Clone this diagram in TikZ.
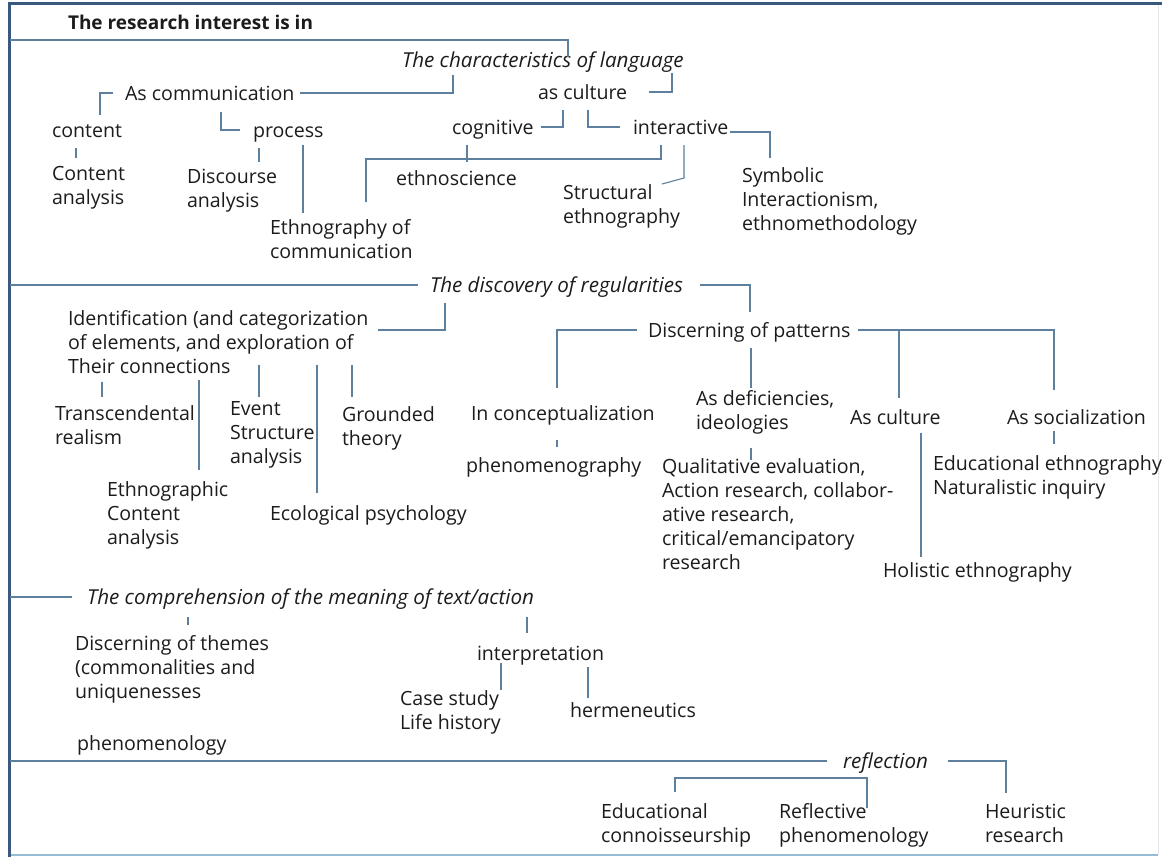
\documentclass[tikz,border=0pt]{standalone}
\usepackage{fontspec}
\setmainfont{Open Sans}
\definecolor{linkblue}{RGB}{92,128,158}
\definecolor{framedark}{RGB}{58,88,125}
\definecolor{framelight}{RGB}{150,188,212}
\definecolor{inkgray}{RGB}{28,28,28}
% multi-line label whose baseline is the first line
\newcommand{\ml}[1]{\begin{tabular}[t]{@{}l@{}}#1\end{tabular}}
\begin{document}
\begin{tikzpicture}[x=1pt,y=-1pt,
  conn/.style={draw=linkblue, line width=1.1pt},
  lbl/.style={anchor=base west, inner sep=0pt, outer sep=0pt, yshift=-7pt,
              text=inkgray, font=\fontsize{19.6}{24}\selectfont},
  one/.style={lbl, text height=18pt, text depth=4pt},
  it/.style={font=\fontsize{20.6}{24}\selectfont\itshape},
  titlefont/.style={font=\fontsize{19}{24}\selectfont\bfseries}]

\useasboundingbox (0,0) rectangle (1162,857);
\fill[white] (0,0) rectangle (1162,857);

% frame
\draw[framelight, line width=1.5pt] (10,855) -- (1158,855);
\draw[black!10, line width=1pt] (1158,3) -- (1158,855);
\draw[framedark, line width=3pt] (8,3.5) -- (1162,3.5);
\draw[framedark, line width=3pt] (9.5,2) -- (9.5,857);

% ---------- the characteristics of language ----------
\node[one,titlefont] (title) at (68,22) {The research interest is in};
\node[one,it] (charlang) at (402,60) {The characteristics of language};
\node[one] (ascomm) at (125,93) {As communication};
\node[one] (asculture1) at (538,92) {as culture};
\node[one] (content) at (52,130) {content};
\node[one] (process) at (253,130) {process};
\node[one] (cognitive) at (452,127) {cognitive};
\node[one] (interactive) at (633,127) {interactive};
\node[lbl] (contentan) at (52,173) {\ml{Content\\analysis}};
\node[lbl] (discourse) at (187,176) {\ml{Discourse\\analysis}};
\node[one] (ethnoscience) at (396,178) {ethnoscience};
\node[lbl] (structural) at (563,192) {\ml{Structural\\ethnography}};
\node[lbl] (symbolic) at (742,175) {\ml{Symbolic\\Interactionism,\\ethnomethodology}};
\node[lbl] (ethcomm) at (270,227) {\ml{Ethnography of\\communication}};

\draw[conn] (10,40) -| (568,57);
\draw[conn] ([xshift=6pt]ascomm.east) -| (453,75);
\draw[conn] ([xshift=22pt]asculture1.east) -| (672,73);
\draw[conn] ([xshift=-12pt]ascomm.west) -| (100,115);
\draw[conn] (221,112) |- ([xshift=-13pt]process.west);
\draw[conn] (76,148) -- (76,158);
\draw[conn] (259,148) -- (259,162);
\draw[conn] (303,145) -- (303,213);
\draw[conn] (563,110) |- ([xshift=7pt]cognitive.east);
\draw[conn] (588,110) |- ([xshift=-13pt]interactive.west);
\draw[conn] ([xshift=2pt,yshift=-5pt]interactive.east) -| (770,158);
\draw[conn] (467,145) -- (467,162);
\draw[conn] (661,145) |- (366,159) -- (366,202);
\draw[conn] (684,145) -- (684,178) -- (662,184);

% ---------- the discovery of regularities ----------
\node[one,it] (discovery) at (430,285) {The discovery of regularities};
\node[lbl] (ident) at (68,318) {\ml{Identification (and categorization\\of elements, and exploration of\\Their connections}};
\node[one] (discerning) at (648,330) {Discerning of patterns};
\node[lbl] (transc) at (55,413) {\ml{Transcendental\\realism}};
\node[lbl] (event) at (230,408) {\ml{Event\\Structure\\analysis}};
\node[lbl] (grounded) at (342,414) {\ml{Grounded\\theory}};
\node[lbl] (ethnocont) at (107,489) {\ml{Ethnographic\\Content\\analysis}};
\node[one] (ecological) at (270,513) {Ecological psychology};
\node[one] (inconcept) at (471,413) {In conceptualization};
\node[one] (phenography) at (466,465) {phenomenography};
\node[lbl] (deficiencies) at (696,398) {\ml{As deficiencies,\\ideologies}};
\node[lbl] (qualitative) at (662,466) {\ml{Qualitative evaluation,\\Action research, collabor-\\ative research,\\critical/emancipatory\\research}};
\node[one] (asculture2) at (850,417) {As culture};
\node[one] (associal) at (1007,417) {As socialization};
\node[lbl] (educeth) at (933,463) {\ml{Educational ethnography\\Naturalistic inquiry}};
\node[one] (holistic) at (883,570) {Holistic ethnography};

\draw[conn] (10,285) -- ([xshift=-12pt]discovery.west);
\draw[conn] ([xshift=17pt]discovery.east) -| (750,312);
\draw[conn] (445,303) |- (378,330);
\draw[conn] (102,382) -- (102,397);
\draw[conn] (199,380) -- (199,470);
\draw[conn] (259,365) -- (259,397);
\draw[conn] (317,365) -- (317,493);
\draw[conn] (352,365) -- (352,397);
\draw[conn] ([xshift=-11pt]discerning.west) -| (557,388);
\draw[conn] (557,440) -- (557,447);
\draw[conn] (751,348) -- (751,388);
\draw[conn] (751,448) -- (751,460);
\draw[conn] ([xshift=8pt]discerning.east) -| (1054,390);
\draw[conn] (899,330) -- (899,398);
\draw[conn] (921,433) -- (921,557);
\draw[conn] (1054,431) -- (1054,444);

% ---------- the comprehension of meaning ----------
\node[one,it] (comprehension) at (87,597) {The comprehension of the meaning of text/action};
\node[lbl] (themes) at (75,643) {\ml{Discerning of themes\\(commonalities and\\uniquenesses}};
\node[one] (phenomenology) at (77,743) {phenomenology};
\node[one] (interpretation) at (477,653) {interpretation};
\node[lbl] (casestudy) at (400,698) {\ml{Case study\\Life history}};
\node[one] (hermeneutics) at (570,710) {hermeneutics};

\draw[conn] (10,597) -- ([xshift=-15pt]comprehension.west);
\draw[conn] (188,617) -- (188,625);
\draw[conn] (527,617) -- (527,633);
\draw[conn] (501,663) -- (501,690);
\draw[conn] (588,667) -- (588,698);

% ---------- reflection ----------
\node[one,it] (reflection) at (843,761) {reflection};
\node[lbl] (educconn) at (601,811) {\ml{Educational\\connoisseurship}};
\node[lbl] (reflective) at (779,811) {\ml{Reflective\\phenomenology}};
\node[lbl] (heuristic) at (985,811) {\ml{Heuristic\\research}};

\draw[conn] (10,761) -- ([xshift=-16pt]reflection.west);
\draw[conn] ([xshift=20pt]reflection.east) -| (1006,793);
\draw[conn] (675,792) |- (867,778) -- (867,808);

\end{tikzpicture}
\end{document}
